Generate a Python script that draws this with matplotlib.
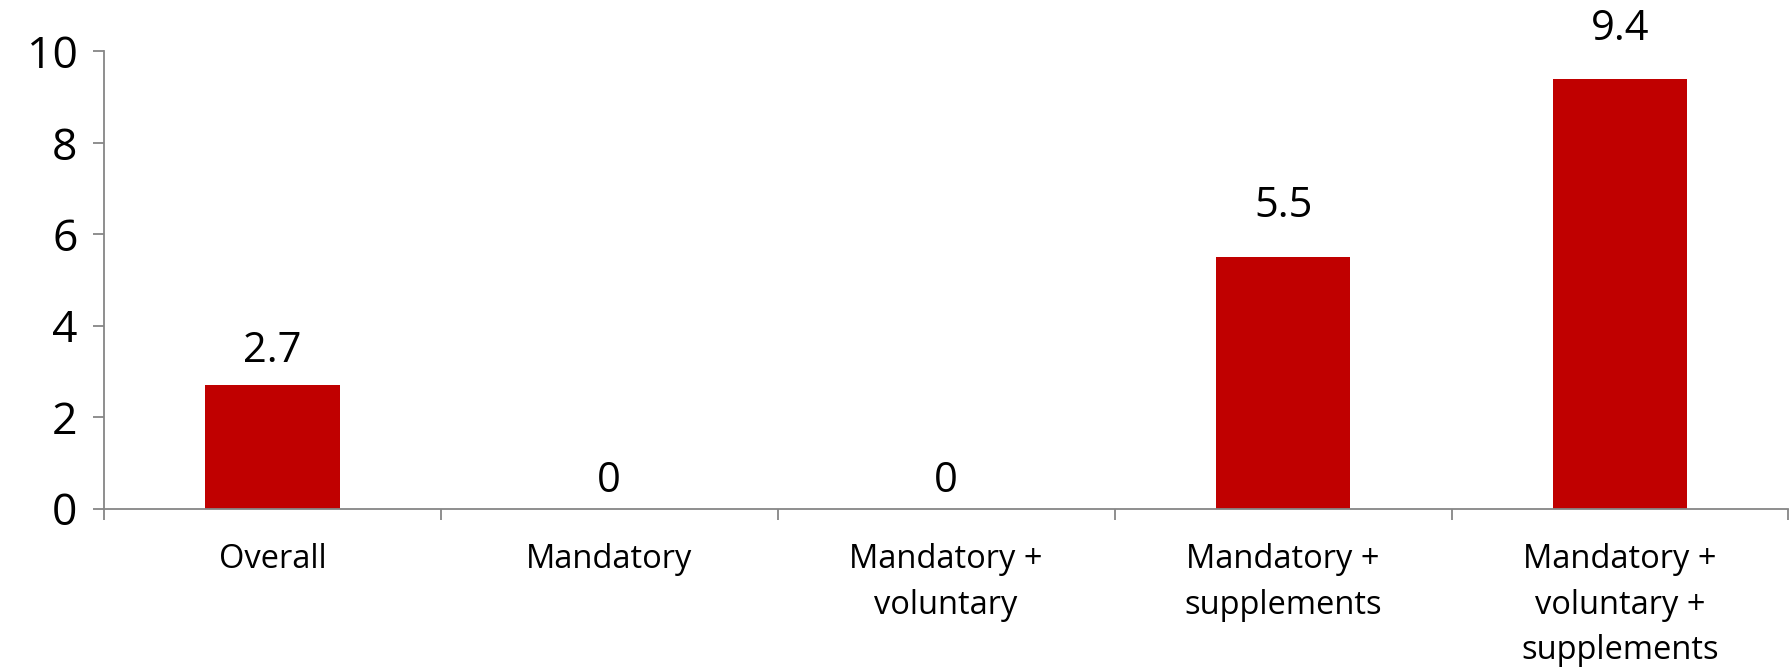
import matplotlib
matplotlib.use("Agg")
import matplotlib.pyplot as plt
import numpy as np

categories = ["Overall", "Mandatory", "Mandatory +\nvoluntary", "Mandatory +\nsupplements",
              "Mandatory +\nvoluntary +\nsupplements"]
values = [2.7, 0, 0, 5.5, 9.4]
value_labels = ["2.7", "0", "0", "5.5", "9.4"]
yticks = [0, 2, 4, 6, 8, 10]

plt.rcParams['font.family'] = ['Open Sans', 'DejaVu Sans']

fig = plt.figure(figsize=(17.92, 6.67), dpi=100)
ax = fig.add_axes([0.058, 0.2375, 0.94, 0.6855])

x = np.arange(len(categories))
bars = ax.bar(x, values, width=0.4, color="#C00000")
ax.set_xlim(-0.5, len(categories) - 0.5)
ax.set_ylim(0, 10)
ax.set_yticks(yticks)
ax.set_yticklabels([str(t) for t in yticks], fontsize=32)

ax.set_xticks(x)
ax.set_xticklabels(categories, fontsize=23.5, linespacing=1.5, va="top")
ax.set_xticks(np.arange(-0.5, len(categories)), minor=True)
ax.tick_params(axis="x", which="major", length=0, pad=25)
ax.tick_params(axis="x", which="minor", length=8, color="#868686", width=1.3)
ax.tick_params(axis="y", length=8, color="#868686", width=1.3, pad=11)

for s in ["top", "right"]:
    ax.spines[s].set_visible(False)
for s in ["left", "bottom"]:
    ax.spines[s].set_color("#868686")
    ax.spines[s].set_linewidth(1.3)

# label offsets (points) above each bar, as placed in the original
label_offsets = [9.4, 5, 5, 22, 21]
for xi, v, lab, off in zip(x, values, value_labels, label_offsets):
    ax.annotate(lab, (xi, v), xytext=(0, off), textcoords="offset points",
                ha="center", va="bottom", fontsize=30, clip_on=False)

fig.savefig("out.png", dpi=100)
